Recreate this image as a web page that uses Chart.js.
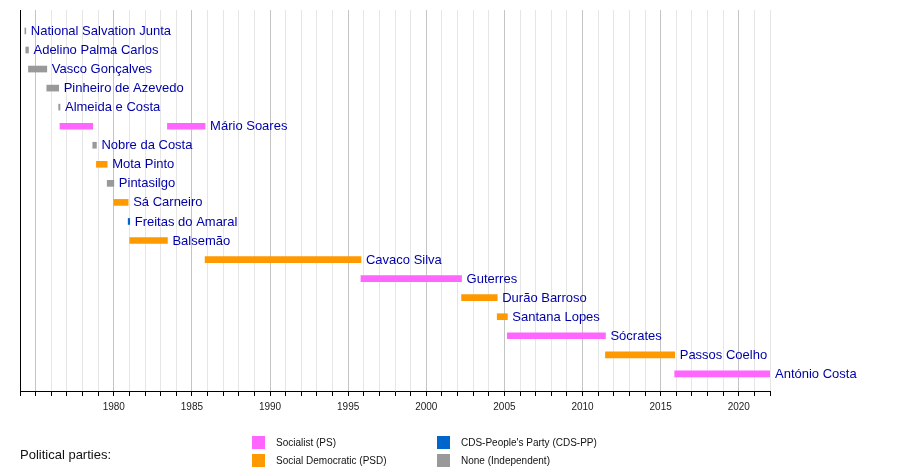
<!DOCTYPE html>
<html>
<head>
<meta charset="utf-8">
<script src="https://cdn.jsdelivr.net/npm/chart.js@4.4.1/dist/chart.umd.min.js"></script>
<style>
  html, body { margin: 0; padding: 0; background: #ffffff; }
  #wrap { width: 900px; height: 470px; position: relative; }
</style>
</head>
<body>
<div id="wrap"><canvas id="c" width="900" height="470"></canvas></div>
<script>
// ---- Data ----
const rowNames = [
  'National Salvation Junta', 'Adelino Palma Carlos', 'Vasco Gonçalves',
  'Pinheiro de Azevedo', 'Almeida e Costa', 'Mário Soares', 'Nobre da Costa',
  'Mota Pinto', 'Pintasilgo', 'Sá Carneiro', 'Freitas do Amaral', 'Balsemão',
  'Cavaco Silva', 'Guterres', 'Durão Barroso', 'Santana Lopes', 'Sócrates',
  'Passos Coelho', 'António Costa'
];
const termRow = [
  'National Salvation Junta', 'Adelino Palma Carlos', 'Vasco Gonçalves',
  'Pinheiro de Azevedo', 'Almeida e Costa', 'Mário Soares', 'Nobre da Costa',
  'Mota Pinto', 'Pintasilgo', 'Sá Carneiro', 'Freitas do Amaral', 'Balsemão',
  'Mário Soares', 'Cavaco Silva', 'Guterres', 'Durão Barroso', 'Santana Lopes',
  'Sócrates', 'Passos Coelho', 'António Costa'
];
const termParty = [
  'IND', 'IND', 'IND', 'IND', 'IND', 'PS', 'IND',
  'PSD', 'IND', 'PSD', 'CDS', 'PSD',
  'PS', 'PSD', 'PS', 'PSD', 'PSD',
  'PS', 'PSD', 'PS'
];
const termStart = [
  '1974-04-25', '1974-05-16', '1974-07-18', '1975-09-19', '1976-06-23', '1976-07-23', '1978-08-29',
  '1978-11-22', '1979-08-01', '1980-01-03', '1980-12-04', '1981-01-09',
  '1983-06-09', '1985-11-06', '1995-10-28', '2002-04-06', '2004-07-17',
  '2005-03-12', '2011-06-21', '2015-11-26'
];
const termEnd = [
  '1974-05-16', '1974-07-18', '1975-09-19', '1976-06-23', '1976-07-23', '1978-08-29', '1978-11-22',
  '1979-08-01', '1980-01-03', '1980-12-04', '1981-01-09', '1983-06-09',
  '1985-11-06', '1995-10-28', '2002-04-06', '2004-07-17', '2005-03-12',
  '2011-06-21', '2015-11-26', '2022-01-01'
];
const partyKeys = ['PS', 'PSD', 'CDS', 'IND'];
const partyLabels = ['Socialist (PS)', 'Social Democratic (PSD)', "CDS-People's Party (CDS-PP)", 'None (Independent)'];
const partyColors = ['#ff66ff', '#ff9900', '#0066cc', '#999999'];
const axisStartYear = 1974;
const axisEndYear = 2022;
const firstLabeledYear = 1980;
const legendTitle = 'Political parties:';

// ---- Helpers ----
function toYear(s) {
  const d = Date.parse(s + 'T00:00:00Z');
  const y = new Date(d).getUTCFullYear();
  const a = Date.UTC(y, 0, 1), b = Date.UTC(y + 1, 0, 1);
  return y + (d - a) / (b - a);
}
const colorOf = p => partyColors[partyKeys.indexOf(p)];

const barData = termRow.map((name, i) => ({
  y: rowNames.indexOf(name),
  x: [toYear(termStart[i]), toYear(termEnd[i])]
}));

const FONT = '"Liberation Sans", Arial, sans-serif';

const decorPlugin = {
  id: 'decor',
  afterDatasetsDraw(chart) {
    const { ctx, chartArea, scales } = chart;
    const xs = scales.x, ys = scales.y;
    ctx.save();
    // left axis line
    ctx.strokeStyle = '#000';
    ctx.lineWidth = 1;
    ctx.beginPath();
    ctx.moveTo(Math.round(chartArea.left) + 0.5, chartArea.top);
    ctx.lineTo(Math.round(chartArea.left) + 0.5, chartArea.bottom);
    ctx.stroke();
    // row labels
    ctx.font = '13px ' + FONT;
    ctx.fillStyle = '#0000a8';
    ctx.textBaseline = 'middle';
    ctx.textAlign = 'left';
    rowNames.forEach((name, r) => {
      let end = -Infinity;
      termRow.forEach((n, i) => { if (n === name) end = Math.max(end, toYear(termEnd[i])); });
      ctx.fillText(name, xs.getPixelForValue(end) + 5, ys.getPixelForValue(r) + 0.5);
    });
    ctx.restore();
  },
  afterDraw(chart) {
    const { ctx } = chart;
    ctx.save();
    ctx.textBaseline = 'middle';
    ctx.textAlign = 'left';
    ctx.font = '13px ' + FONT;
    ctx.fillStyle = '#111';
    ctx.fillText(legendTitle, 20, 455);
    ctx.font = '10px ' + FONT;
    const cols = [252, 437];
    const rowsY = [436, 454];
    partyKeys.forEach((k, i) => {
      const cx = cols[Math.floor(i / 2)];
      const cy = rowsY[i % 2];
      ctx.fillStyle = partyColors[i];
      ctx.fillRect(cx, cy, 13, 13);
      ctx.fillStyle = '#111';
      ctx.fillText(partyLabels[i], cx + 24, cy + 7);
    });
    ctx.restore();
  }
};

new Chart(document.getElementById('c'), {
  type: 'bar',
  data: {
    datasets: [{
      data: barData,
      backgroundColor: termParty.map(colorOf),
      borderWidth: 0,
      barThickness: 6
    }]
  },
  options: {
    indexAxis: 'y',
    responsive: false,
    animation: false,
    devicePixelRatio: 1,
    layout: { padding: { left: 20, right: 130, top: 10, bottom: 52 } },
    plugins: { legend: { display: false }, tooltip: { enabled: false } },
    scales: {
      y: {
        type: 'linear',
        display: false,
        reverse: true,
        offset: false,
        grace: 0,
        bounds: 'ticks',
        min: -1.1,
        max: 18.9
      },
      x: {
        type: 'linear',
        min: axisStartYear,
        max: axisEndYear,
        border: { display: true, color: '#000', width: 1 },
        grid: {
          color: c => (c.tick && c.tick.value % 5 === 0) ? '#c4c4c4' : '#e6e6e6',
          tickColor: '#000',
          tickLength: 5,
          drawTicks: true
        },
        ticks: {
          stepSize: 1,
          autoSkip: false,
          maxRotation: 0,
          padding: 5,
          color: '#222',
          font: { family: FONT, size: 10 },
          callback: v => (v % 5 === 0 && v >= firstLabeledYear) ? String(v) : ''
        }
      }
    }
  },
  plugins: [decorPlugin]
});
</script>
</body>
</html>
